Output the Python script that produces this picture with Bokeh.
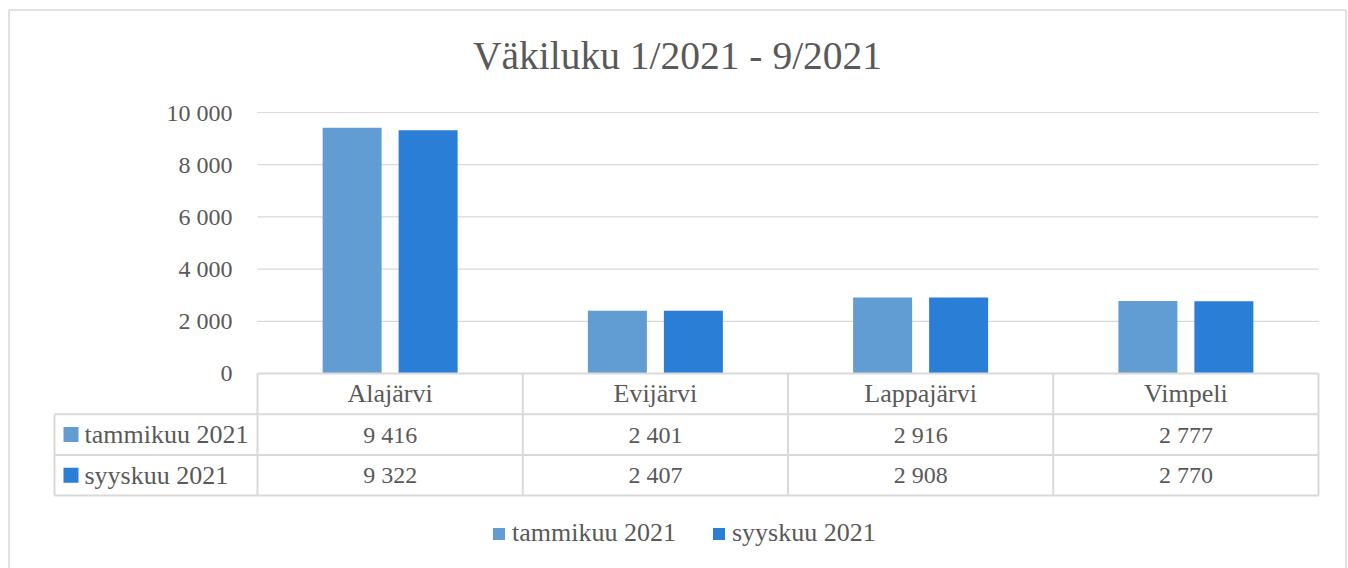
from bokeh.plotting import figure
from bokeh.models import Legend, LegendItem
from bokeh.core.properties import value
from bokeh.embed import file_html
from bokeh.resources import INLINE

# ---- data ----
title_text = "Väkiluku 1/2021 - 9/2021"
categories = ["Alajärvi", "Evijärvi", "Lappajärvi", "Vimpeli"]
series_names = ["tammikuu 2021", "syyskuu 2021"]
tammikuu = [9416, 2401, 2916, 2777]
syyskuu = [9322, 2407, 2908, 2770]
y_ticks = [0, 2000, 4000, 6000, 8000, 10000]

# ---- style ----
COLORS = ["#619dd2", "#2a7ed6"]
TXT = "#595959"
LINE = "#d9d9d9"
FONT = "Liberation Serif"
NUM_SIZE = "24px"
WORD_SIZE = "26px"

W, H = 1348, 568
# layout (canvas pixels)
PL, PR = 257, 1318          # plot area left/right
Y0, Y10 = 373, 112          # pixel rows of 0 and 10000
CW = (PR - PL) / len(categories)
PPU = (Y0 - Y10) / 10000.0


def X(px):
    return (px - PL) / CW


def Y(py):
    return (Y0 - py) / PPU


p = figure(width=W, height=H, output_backend="svg", toolbar_location=None,
           x_range=(X(0), X(W)), y_range=(Y(H), Y(0)),
           min_border=0, min_border_left=0, min_border_right=0,
           min_border_top=0, min_border_bottom=0)
p.xaxis.visible = False
p.yaxis.visible = False
p.grid.visible = False
p.outline_line_color = None
p.background_fill_color = "white"
p.border_fill_color = "white"

# outer chart border (left, top, right)
p.line(x=[X(8.5), X(8.5), X(1345.5), X(1345.5)],
       y=[Y(H), Y(9.5), Y(9.5), Y(H)], line_color=LINE, line_width=1.5)

# title
p.text(x=[X(677)], y=[Y(55)], text=[title_text], text_align="center",
       text_baseline="middle", text_font=value(FONT), text_font_size="39.5px",
       text_color=TXT)

# gridlines & y tick labels
grid_y = [t for t in y_ticks if t > 0]
p.segment(x0=[X(PL)] * len(grid_y), x1=[X(PR)] * len(grid_y),
          y0=grid_y, y1=grid_y, line_color=LINE, line_width=1.2)


def fmt(v):
    return f"{v:,}".replace(",", " ")


p.text(x=[X(232)] * len(y_ticks), y=y_ticks, text=[fmt(t) for t in y_ticks],
       text_align="right", text_baseline="middle", text_font=value(FONT),
       text_font_size=NUM_SIZE, text_color=TXT)

# bars
xc = [i + 0.5 for i in range(len(categories))]
bw = 59 / CW
off = 38 / CW
r1 = p.vbar(x=[c - off for c in xc], top=tammikuu, bottom=0, width=bw,
            fill_color=COLORS[0], line_color=None)
r2 = p.vbar(x=[c + off for c in xc], top=syyskuu, bottom=0, width=bw,
            fill_color=COLORS[1], line_color=None)

# data table
row_h = 40.7
r_top = Y0                       # header row top
r1_top = Y0 + row_h
r2_top = Y0 + 2 * row_h
r_bot = Y0 + 3 * row_h
TL = 54                          # table left edge
# horizontal lines
p.segment(x0=[X(PL), X(TL), X(TL), X(TL)], x1=[X(PR)] * 4,
          y0=[Y(r_top), Y(r1_top), Y(r2_top), Y(r_bot)],
          y1=[Y(r_top), Y(r1_top), Y(r2_top), Y(r_bot)],
          line_color=LINE, line_width=2)
# vertical lines
vx = [PL + i * CW for i in range(len(categories) + 1)]
p.segment(x0=[X(v) for v in vx] + [X(TL)], x1=[X(v) for v in vx] + [X(TL)],
          y0=[Y(r_top)] * len(vx) + [Y(r1_top)],
          y1=[Y(r_bot)] * (len(vx) + 1),
          line_color=LINE, line_width=2)

# header labels
p.text(x=xc, y=[Y(r_top + row_h / 2)] * len(xc), text=categories,
       text_align="center", text_baseline="middle", text_font=value(FONT),
       text_font_size=WORD_SIZE, text_color=TXT)
# values
p.text(x=xc, y=[Y(r1_top + row_h / 2)] * len(xc), text=[fmt(v) for v in tammikuu],
       text_align="center", text_baseline="middle", text_font=value(FONT),
       text_font_size=NUM_SIZE, text_color=TXT)
p.text(x=xc, y=[Y(r2_top + row_h / 2)] * len(xc), text=[fmt(v) for v in syyskuu],
       text_align="center", text_baseline="middle", text_font=value(FONT),
       text_font_size=NUM_SIZE, text_color=TXT)
# row keys
for k, ytop in enumerate([r1_top, r2_top]):
    p.scatter(x=[X(70.5)], y=[Y(ytop + row_h / 2)], marker="square", size=15,
              fill_color=COLORS[k], line_color=None)
    p.text(x=[X(84)], y=[Y(ytop + row_h / 2)], text=[series_names[k]],
           text_align="left", text_baseline="middle", text_font=value(FONT),
           text_font_size=WORD_SIZE, text_color=TXT)

# legend
legend = Legend(items=[LegendItem(label=series_names[0], renderers=[r1]),
                       LegendItem(label=series_names[1], renderers=[r2])],
                orientation="horizontal", location=(491, 20),
                glyph_width=15, glyph_height=15, label_standoff=6, spacing=35,
                padding=0, margin=0, border_line_color=None,
                background_fill_alpha=0, label_text_font=FONT,
                label_text_font_size=WORD_SIZE, label_text_color=TXT,
                label_text_baseline="middle")
p.add_layout(legend)

open("out.html", "w").write(file_html(p, INLINE))
